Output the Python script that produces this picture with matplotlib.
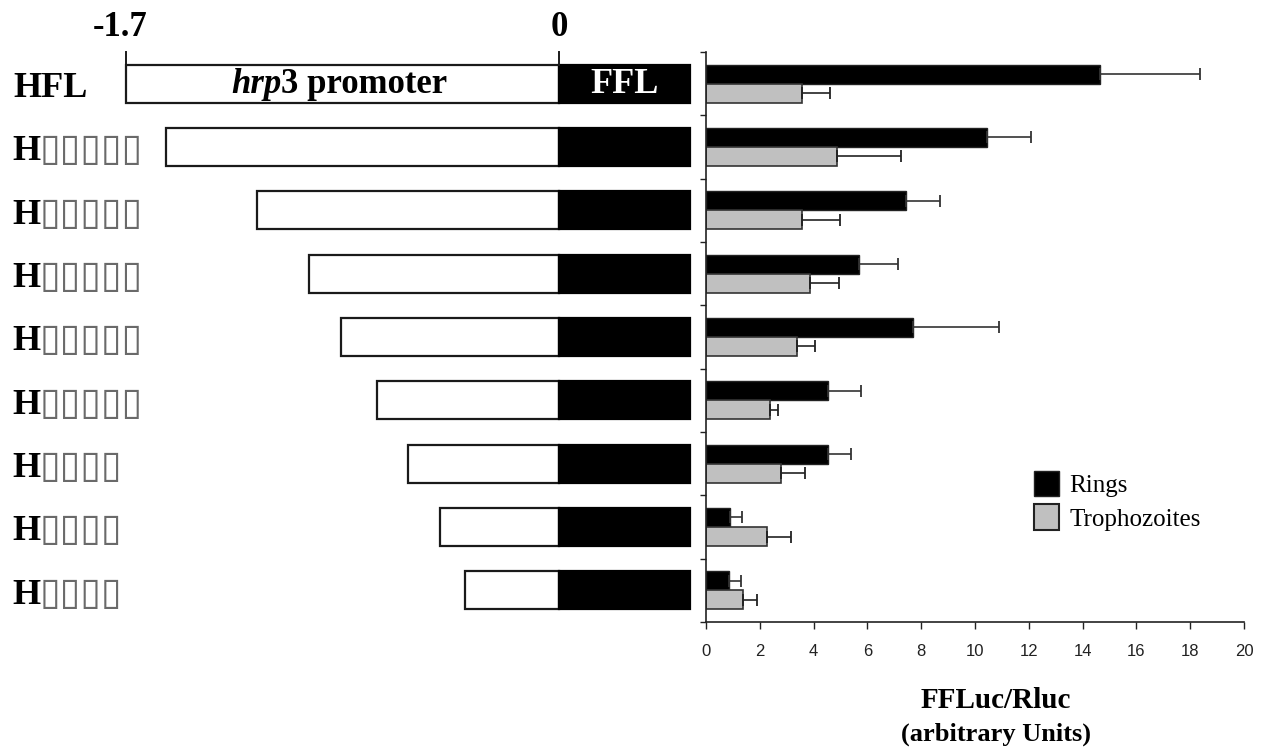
import numpy as np
import matplotlib.pyplot as plt
from matplotlib.patches import Patch

# constructs (top to bottom)
labels = ['HFL', '▯▯▯▯▯', '▯▯▯▯▯', '▯▯▯▯▯', '▯▯▯▯▯', '▯▯▯▯▯', '▯▯▯▯', '▯▯▯▯', '▯▯▯▯']
promoter_start = [-1.7, -1.544, -1.185, -0.98, -0.857, -0.715, -0.593, -0.468, -0.371]
ffl_end = 0.514

# FFLuc/Rluc values
rings = [14.65, 10.45, 7.42, 5.67, 7.70, 4.53, 4.53, 0.89, 0.85]
rings_err = [3.72, 1.63, 1.28, 1.46, 3.18, 1.25, 0.87, 0.45, 0.45]
troph = [3.58, 4.88, 3.58, 3.87, 3.37, 2.37, 2.78, 2.28, 1.39]
troph_err = [1.04, 2.38, 1.39, 1.08, 0.69, 0.30, 0.90, 0.88, 0.49]

serif = 'Liberation Serif'
sans = 'Liberation Sans'

W, H = 1272, 755
fig = plt.figure(figsize=(W / 100, H / 100), dpi=100)

y = np.arange(len(labels))
bottom = 1 - 622 / H
height = 570 / H

# left panel: construct diagrams
axl = fig.add_axes([0, bottom, 700 / W, height])
axl.set_xlim((0 - 559) / 254.7, (700 - 559) / 254.7)
axl.set_ylim(8.5, -0.5)
axl.axis('off')

lens = [0 - s for s in promoter_start]
axl.barh(y, lens, left=promoter_start, height=0.6, color='white',
         edgecolor='#1a1a1a', linewidth=1.6)
axl.barh(y, ffl_end, left=0, height=0.6, color='black',
         edgecolor='black', linewidth=1.6)

# scale marks on top
for xv in [-1.7, 0]:
    axl.plot([xv, xv], [-0.3, -0.5], color='#1a1a1a', lw=1.4, clip_on=False)
axl.text(-1.724, -0.753, '-1.7', fontfamily=serif, fontweight='bold', fontsize=25,
         ha='center', va='baseline')
axl.text(0.0, -0.753, '0', fontfamily=serif, fontweight='bold', fontsize=25,
         ha='center', va='baseline')

# promoter / FFL labels in first row
t1 = axl.text((231 - 559) / 254.7, 0.02, 'hrp', fontfamily=serif, fontweight='bold',
              fontstyle='italic', fontsize=25, ha='left', va='center')
axl.annotate('3 promoter', xy=(1, 0), xycoords=t1, xytext=(0, 0),
             textcoords='offset points', fontfamily=serif, fontweight='bold',
             fontsize=25, ha='left', va='bottom')
axl.text(ffl_end / 2, 0.02, 'FFL', fontfamily=serif, fontweight='bold', fontsize=26,
         color='white', ha='center', va='center')

# row labels
for i, lab in enumerate(labels):
    base = i + 0.21
    if lab == 'HFL':
        axl.text(-2.142, base, 'HFL', fontfamily=serif, fontweight='bold',
                 fontsize=26, ha='left', va='baseline')
    else:
        th = axl.text(-2.148, base, 'H', fontfamily=serif, fontweight='bold',
                      fontsize=26, ha='left', va='baseline')
        axl.annotate(lab, xy=(1, base), xycoords=(th, 'data'), xytext=(0, 0),
                     textcoords='offset points', fontfamily='DejaVu Sans',
                     fontsize=27, color='#6a6a6a', ha='left', va='baseline')

# right panel: bar chart
ax = fig.add_axes([706 / W, bottom, 538 / W, height])
bh = 0.3
ax.barh(y - bh / 2, rings, height=bh, color='black', edgecolor='#222222', linewidth=1.0,
        xerr=[np.zeros(len(rings)), rings_err],
        error_kw=dict(ecolor='#333333', elinewidth=1.2, capsize=4, capthick=1.3),
        label='Rings')
ax.barh(y + bh / 2, troph, height=bh, color='#c0c0c0', edgecolor='#333333', linewidth=1.2,
        xerr=[np.zeros(len(troph)), troph_err],
        error_kw=dict(ecolor='#222222', elinewidth=1.2, capsize=4, capthick=1.3),
        label='Trophozoites')

ax.set_xlim(0, 20)
ax.set_ylim(8.5, -0.5)
ax.set_xticks(np.arange(0, 21, 2))
ax.set_yticks(np.arange(-0.5, 9, 1))
ax.set_yticklabels([])
for lbl in ax.get_xticklabels():
    lbl.set_fontfamily(sans)
ax.tick_params(axis='x', labelsize=12, length=5, width=1, color='#222222',
               labelcolor='#222222', pad=11)
ax.tick_params(axis='y', length=4, width=1, color='#222222')
for s in ['top', 'right']:
    ax.spines[s].set_visible(False)
for s in ['left', 'bottom']:
    ax.spines[s].set_color('#222222')
    ax.spines[s].set_linewidth(1.2)

handles = [Patch(facecolor='black', edgecolor='#222222', label='Rings'),
           Patch(facecolor='#c0c0c0', edgecolor='#222222', linewidth=1.5,
                 label='Trophozoites')]
ax.legend(handles=handles, loc='upper left', bbox_to_anchor=(0.568, 0.305),
          frameon=False, prop={'family': serif, 'size': 18},
          handlelength=1.0, handleheight=1.2, handletextpad=0.4, labelspacing=0.3)

fig.text(996 / W, 1 - 700 / H, 'FFLuc/Rluc', fontfamily=serif, fontweight='bold',
         fontsize=21, ha='center', va='center')
fig.text(996 / W, 1 - 734 / H, '(arbitrary Units)', fontfamily=serif, fontweight='bold',
         fontsize=19, ha='center', va='center')

fig.savefig('out.png', dpi=100)
